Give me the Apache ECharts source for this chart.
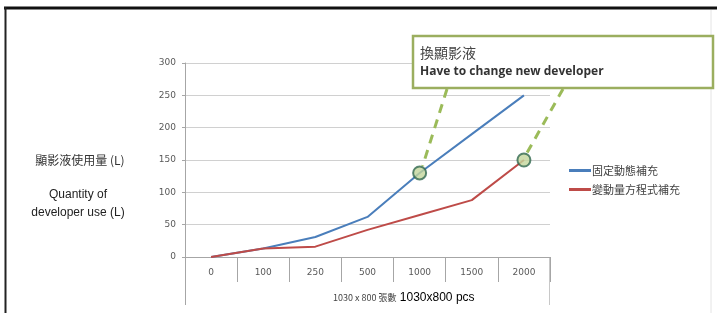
<!DOCTYPE html>
<html><head><meta charset="utf-8">
<script src="https://cdn.jsdelivr.net/npm/echarts@6/dist/echarts.min.js"></script>
<style>html,body{margin:0;padding:0;background:#fff}#c{width:717px;height:313px}</style>
</head><body><div id="c"></div>
<script>
const categories = ['0','100','250','500','1000','1500','2000'];
const fixedDynamic = [0, 13, 31, 62, 130, 190, 250];
const variableEq = [0, 13, 16, 42, 65, 88, 150];
const yTicks = [0, 50, 100, 150, 200, 250, 300];
const seriesNames = ['固定動態補充', '變動量方程式補充'];
const changePoints = [[4, fixedDynamic[4]], [6, variableEq[6]]];

const chart = echarts.init(document.getElementById('c'), null, {renderer:'canvas'});
const G = {left:185, right:167, top:63, bottom:56};
const cjk = '"Noto Sans CJK TC","Noto Sans CJK SC",sans-serif';
chart.setOption({
  animation:false,
  backgroundColor:'#fff',
  grid:{left:G.left, right:G.right, top:G.top, bottom:G.bottom, containLabel:false},
  legend:{
    orient:'vertical', left:564, top:160, itemWidth:22, itemHeight:3, itemGap:8, icon:'rect',
    textStyle:{fontFamily:cjk, fontSize:11, color:'#404040', padding:[0,0,0,-4]},
    data:seriesNames
  },
  xAxis:{
    type:'category', data:categories, boundaryGap:true,
    axisLine:{lineStyle:{color:'#a6a6a6', width:1}},
    axisTick:{show:true, length:25, lineStyle:{color:'#a6a6a6'}},
    axisLabel:{fontFamily:'DejaVu Sans', fontSize:9, color:'#595959', margin:11}
  },
  yAxis:{
    type:'value', min:0, max:300, interval:50,
    axisLine:{show:true, lineStyle:{color:'#a6a6a6'}},
    axisTick:{show:true, length:3, lineStyle:{color:'#a6a6a6'}},
    axisLabel:{fontFamily:'DejaVu Sans', fontSize:9, color:'#595959', margin:9,
      formatter:v=> yTicks.includes(v) ? String(v) : ''},
    splitLine:{lineStyle:{color:'#d0d0d0'}}
  },
  series:[
    {name:seriesNames[0], type:'line', data:fixedDynamic, symbol:'none', lineStyle:{color:'#4a7ebb', width:2}, itemStyle:{color:'#4a7ebb'}},
    {name:seriesNames[1], type:'line', data:variableEq, symbol:'none', lineStyle:{color:'#be4b48', width:2}, itemStyle:{color:'#be4b48'}},
    {type:'scatter', data:changePoints, symbol:'circle', symbolSize:13, z:5,
      itemStyle:{color:'#c3d69b', borderColor:'#31684f', borderWidth:2}}
  ]
});

function addGraphics(){
  const p1 = chart.convertToPixel({xAxisIndex:0, yAxisIndex:0}, changePoints[0]);
  const p2 = chart.convertToPixel({xAxisIndex:0, yAxisIndex:0}, changePoints[1]);
  const gl = G.left, gr = 717 - G.right, gb = 313 - G.bottom;
  chart.setOption({graphic:[
    // frame
    {type:'line', shape:{x1:4, y1:8, x2:717, y2:8}, style:{stroke:'#111', lineWidth:3}},
    {type:'line', shape:{x1:5.5, y1:7, x2:5.5, y2:313}, style:{stroke:'#222', lineWidth:2}},
    {type:'line', shape:{x1:711, y1:10, x2:711, y2:313}, style:{stroke:'#e4e4e4', lineWidth:1}},
    // table-like extensions
    {type:'line', shape:{x1:gl+0.5, y1:gb, x2:gl+0.5, y2:305}, style:{stroke:'#a6a6a6', lineWidth:1}},
    {type:'line', shape:{x1:gr-0.5, y1:gb, x2:gr-0.5, y2:305}, style:{stroke:'#c8c8c8', lineWidth:1}},
    // y titles
    {type:'text', x:80, y:160, style:{text:'顯影液使用量 (L)', font:'12px '+cjk, fill:'#333', align:'center', verticalAlign:'middle'}},
    {type:'text', x:78, y:195, style:{text:'Quantity of', font:'12px "Liberation Sans",Arial,sans-serif', fill:'#222', align:'center', verticalAlign:'middle'}},
    {type:'text', x:78, y:213, style:{text:'developer use (L)', font:'12px "Liberation Sans",Arial,sans-serif', fill:'#222', align:'center', verticalAlign:'middle'}},
    // x title
    {type:'text', x:333, y:298, style:{text:'{a|1030 x 800 張數} {b|1030x800 pcs}', align:'left', verticalAlign:'middle',
      rich:{a:{fontSize:9, fontFamily:cjk, fill:'#444', color:'#444'}, b:{fontSize:12, fontFamily:'"Liberation Sans",Arial,sans-serif', color:'#333'}}}},
    // dashed leaders
    {type:'line', z:4, shape:{x1:447, y1:89, x2:p1[0]+3, y2:p1[1]-7}, style:{stroke:'#9bbb59', lineWidth:3, lineDash:[9,7]}},
    {type:'line', z:4, shape:{x1:563, y1:89, x2:p2[0]+3, y2:p2[1]-7}, style:{stroke:'#9bbb59', lineWidth:3, lineDash:[9,7]}},
    // callout box
    {type:'rect', z:6, shape:{x:413, y:36, width:300, height:52}, style:{fill:'#fff', stroke:'#9bae5f', lineWidth:2.5}},
    {type:'text', z:7, x:420, y:53, style:{text:'換顯影液', font:'14px '+cjk, fill:'#444', verticalAlign:'middle'}},
    {type:'text', z:7, x:420, y:72, style:{text:'Have to change new developer', font:'bold 12px "Open Sans","DejaVu Sans",sans-serif', fill:'#333', verticalAlign:'middle'}}
  ]});
}
addGraphics();
</script></body></html>
